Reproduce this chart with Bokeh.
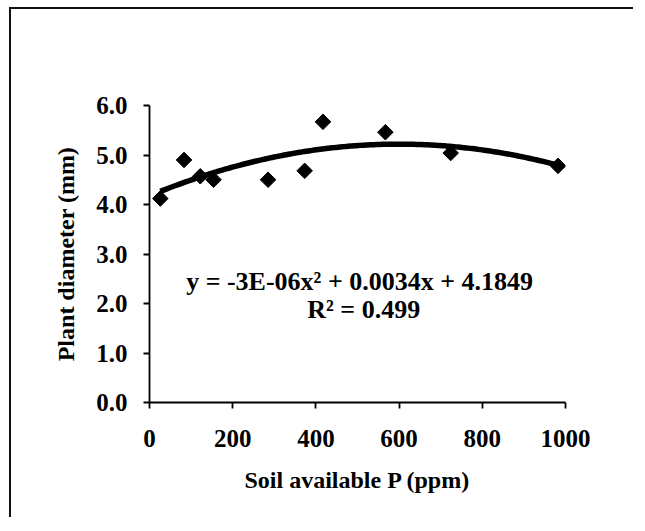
import numpy as np
from bokeh.plotting import figure
from bokeh.models import FixedTicker, PrintfTickFormatter, Range1d
from bokeh.core.properties import value
from bokeh.embed import file_html
from bokeh.resources import INLINE

# Data
soil_p = [26, 83, 122, 154, 285, 373, 417, 567, 724, 982]
diameter = [4.12, 4.90, 4.57, 4.50, 4.50, 4.68, 5.67, 5.46, 5.04, 4.78]
x_ticks = [0, 200, 400, 600, 800, 1000]
y_ticks = [0, 1, 2, 3, 4, 5, 6]
equation_text = "y = -3E-06x\u00b2 + 0.0034x + 4.1849"
r2_text = "R\u00b2 = 0.499"

FONT = "Liberation Serif"

p = figure(width=624, height=510, output_backend="svg", toolbar_location=None,
           x_range=Range1d(0, 1000), y_range=Range1d(0, 6),
           min_border_left=138, min_border_right=70,
           min_border_top=96, min_border_bottom=117)
p.styles = {"border-left": "2px solid #111", "border-top": "2px solid #111",
            "margin-left": "9px", "margin-top": "7px"}
p.outline_line_color = None
p.xgrid.visible = False
p.ygrid.visible = False

# quadratic trendline fitted to the data
coef = np.polyfit(soil_p, diameter, 2)
xs = np.linspace(min(soil_p), max(soil_p), 200)
p.line(xs, np.polyval(coef, xs), line_color="black", line_width=5.5)

p.scatter(soil_p, diameter, marker="square", size=11, angle=np.pi / 4,
          fill_color="black", line_color="black")

p.text(x=[505], y=[2.45], text=[equation_text], text_font=value(FONT),
       text_font_style="bold", text_font_size="26px", text_align="center",
       text_baseline="middle", text_color="black")
p.text(x=[515], y=[1.88], text=[r2_text], text_font=value(FONT),
       text_font_style="bold", text_font_size="26px", text_align="center",
       text_baseline="middle", text_color="black")

for ax in (p.xaxis[0], p.yaxis[0]):
    ax.axis_line_color = "black"
    ax.axis_line_width = 1.8
    ax.major_tick_line_color = "black"
    ax.major_tick_line_width = 1.8
    ax.major_tick_out = 6
    ax.major_tick_in = 0
    ax.minor_tick_line_color = None
    ax.major_label_text_font = FONT
    ax.major_label_text_font_style = "bold"
    ax.major_label_text_font_size = "25px"
    ax.major_label_text_color = "black"
    ax.axis_label_text_font = FONT
    ax.axis_label_text_font_style = "bold"
    ax.axis_label_text_font_size = "24px"
    ax.axis_label_text_color = "black"

p.xaxis.ticker = FixedTicker(ticks=x_ticks)
p.yaxis.ticker = FixedTicker(ticks=y_ticks)
p.yaxis.formatter = PrintfTickFormatter(format="%.1f")
p.xaxis.axis_label = "Soil available P (ppm)"
p.yaxis.axis_label = "Plant diameter (mm)"
p.xaxis.major_label_standoff = 21
p.yaxis.major_label_standoff = 16
p.xaxis.axis_label_standoff = 17
p.yaxis.axis_label_standoff = 14

open("out.html", "w").write(file_html(p, INLINE))
